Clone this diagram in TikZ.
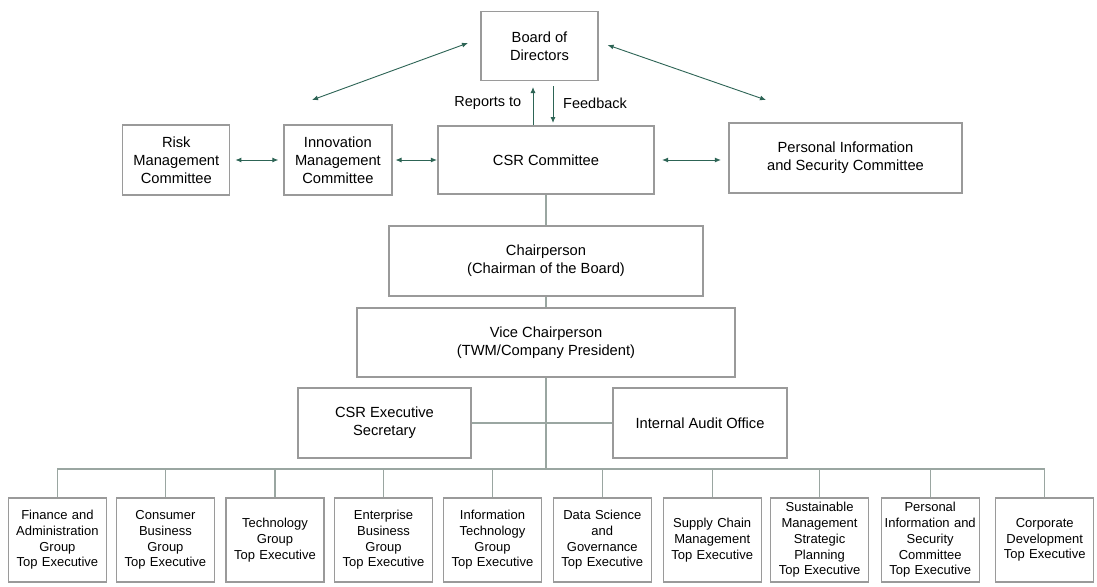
\documentclass[tikz,border=0pt]{standalone}
\usepackage{fontspec}
\setmainfont{Liberation Sans}
\usetikzlibrary{arrows.meta}
\definecolor{boxline}{HTML}{9A9A9A}
\definecolor{conline}{HTML}{9AA6A1}
\definecolor{arrgreen}{HTML}{2D6455}
\begin{document}
\begin{tikzpicture}[x=1pt,y=-1pt,
  box/.style={draw=boxline,line width=1.2pt,fill=white,align=center,inner sep=2pt,
    font=\fontsize{14.7}{18}\selectfont},
  conn/.style={draw=conline,line width=1.1pt},
  arr/.style={draw=arrgreen,line width=0.9pt,{Latex[length=6pt,width=5pt]}-{Latex[length=6pt,width=5pt]}},
  uarr/.style={draw=arrgreen,line width=0.9pt,-{Latex[length=6pt,width=5pt]}},
  lbl/.style={font=\fontsize{14.5}{18}\selectfont,inner sep=0pt}]
\useasboundingbox (0,0) rectangle (1097,586);
\fill[white] (0,0) rectangle (1097,586);
% top level
\node[box,minimum width=117pt,minimum height=69pt] (board) at (539.5,46.2) {Board of\\Directors};
\node[box,minimum width=107pt,minimum height=70pt] (risk) at (176.3,160) {Risk\\Management\\Committee};
\node[box,minimum width=108pt,minimum height=70pt] (innov) at (337.9,160) {Innovation\\Management\\Committee};
\node[box,minimum width=216pt,minimum height=68pt] (csr) at (546,160) {CSR Committee};
\node[box,minimum width=233pt,minimum height=70pt] (pisc) at (845.5,158) {Personal Information\\and Security Committee};
\node[box,minimum width=314pt,minimum height=70pt] (chair) at (546,261) {Chairperson\\(Chairman of the Board)};
\node[box,minimum width=378pt,minimum height=69pt] (vice) at (546,342.5) {Vice Chairperson\\(TWM/Company President)};
\node[box,minimum width=173pt,minimum height=70pt] (sec) at (384.5,423) {CSR Executive\\Secretary};
\node[box,minimum width=174pt,minimum height=70pt] (audit) at (700,423) {Internal Audit Office};
% bottom row
\tikzset{bot/.style={box,font=\fontsize{13}{15.7}\selectfont,minimum width=96pt,text width=94pt,minimum height=84pt}}
\node[bot] (b1) at (57.4,540) {Finance and\\Administration\\Group\\Top Executive};
\node[bot] (b2) at (165.4,540) {Consumer\\Business\\Group\\Top Executive};
\node[bot] (b3) at (275,540) {Technology\\Group\\Top Executive};
\node[bot] (b4) at (383.5,540) {Enterprise\\Business\\Group\\Top Executive};
\node[bot] (b5) at (492.5,540) {Information\\Technology\\Group\\Top Executive};
\node[bot] (b6) at (602.3,540) {Data Science\\and\\Governance\\Top Executive};
\node[bot] (b7) at (712.2,540) {Supply Chain\\Management\\Top Executive};
\node[bot] (b8) at (819.6,540) {Sustainable\\Management\\Strategic\\Planning\\Top Executive};
\node[bot] (b9) at (930.2,540) {Personal\\Information and\\Security\\Committee\\Top Executive};
\node[bot] (b10) at (1044.7,540) {Corporate\\Development\\Top Executive};
% tree connectors
\coordinate (busl) at (57.4,469);
\coordinate (busr) at (1044.7,469);
\draw[conn] (csr.south) -- (chair.north);
\draw[conn] (chair.south) -- (vice.north);
\draw[conn] (vice.south) -- (vice.south |- busl);
\draw[conn] (sec.east) -- (audit.west);
\draw[conn] (busl) -- (busr);
\foreach \b in {b1,b2,b3,b4,b5,b6,b7,b8,b9,b10}
  \draw[conn] (\b.north) -- (\b.north |- busl);
% arrows
\draw[arr,shorten <=5pt,shorten >=5pt] (risk.east) -- (risk.east -| innov.west);
\draw[arr,shorten <=3pt,shorten >=0.5pt] (innov.east) -- (innov.east -| csr.west);
\draw[arr,shorten <=7.5pt,shorten >=7.5pt] (csr.east) -- (csr.east -| pisc.west);
\coordinate (dl1) at (468,43);
\coordinate (dl2) at (312,100);
\coordinate (dr1) at (607.6,45);
\coordinate (dr2) at (766,100);
\draw[arr] (dl1) -- (dl2);
\draw[arr] (dr1) -- (dr2);
\coordinate (rt1) at (533,125);
\coordinate (rt2) at (533,87);
\coordinate (fb1) at (553,86);
\coordinate (fb2) at (553,123);
\draw[uarr] (rt1) -- (rt2);
\draw[uarr] (fb1) -- (fb2);
\node[lbl,anchor=east] (rtl) at (521.5,103) {Reports to};
\node[lbl,anchor=west] (fbl) at (563,103) {Feedback};
\end{tikzpicture}
\end{document}
